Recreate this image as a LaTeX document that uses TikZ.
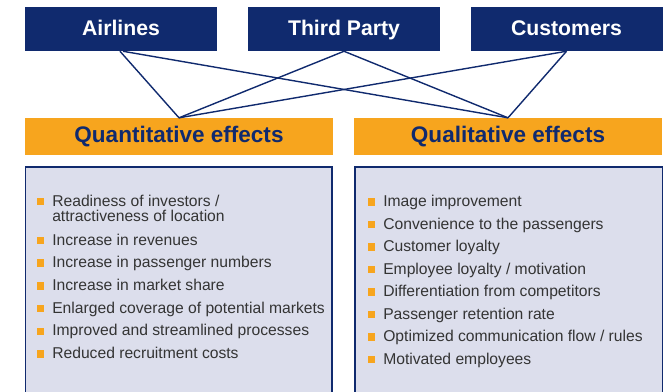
\documentclass[tikz,border=0pt]{standalone}
\usepackage{fontspec}
\setmainfont{Liberation Sans}

\definecolor{navy}{RGB}{16,42,110}
\definecolor{amber}{RGB}{247,165,30}
\definecolor{panel}{RGB}{220,222,236}
\definecolor{bodytext}{RGB}{52,52,52}

\tikzset{
  party/.style={fill=navy, text=white, inner sep=0pt,
    font=\fontsize{15.9}{18}\selectfont\bfseries,
    minimum width=144pt, minimum height=33pt, text height=11pt, text depth=1pt},
  effect/.style={fill=amber, text=navy, inner sep=0pt,
    font=\fontsize{16.9}{19}\selectfont\bfseries,
    minimum width=231pt, minimum height=28pt, text height=11pt, text depth=3pt},
  panelbox/.style={fill=panel, draw=navy, line width=0.8pt},
  link/.style={draw=navy, line width=1.05pt},
  marker/.style={fill=amber, minimum size=5.6pt, inner sep=0pt},
  itemtext/.style={text=bodytext, anchor=base west, inner sep=0pt,
    font=\fontsize{11.75}{13}\selectfont}
}

\begin{document}
\begin{tikzpicture}[x=0.75pt,y=-0.75pt]

    \useasboundingbox (0,0) rectangle (663,392);

    \node[party] (airlines) at (121,29) {Airlines};
    \node[party] (thirdparty) at (344,29) {Third Party};
    \node[party] (customers) at (566.5,29) {Customers};

    \node[effect] (quant) at (179,136.75) {Quantitative effects};
    \node[effect] (qual) at (508,136.75) {Qualitative effects};

    \draw[link] ([xshift=-0.75pt]airlines.south) -- (quant.north);
    \draw[link] ([xshift=1.5pt]airlines.south) -- (qual.north);
    \draw[link] (thirdparty.south) -- (quant.north);
    \draw[link] (thirdparty.south) -- (qual.north);
    \draw[link] (customers.south) -- (quant.north);
    \draw[link] (customers.south) -- (qual.north);

    \draw[panelbox] (25.5,167) rectangle (332,400);
    \draw[panelbox] (355,167) rectangle (662.5,400);

    % quantitative list
    \foreach \b/\txt [count=\n] in {206/{Readiness of investors /},
        245/{Increase in revenues}, 267.7/{Increase in passenger numbers},
        290.4/{Increase in market share}, 313/{Enlarged coverage of potential markets},
        335.8/{Improved and streamlined processes}, 358.5/{Reduced recruitment costs}}{
      \node[marker] (qn-mark-\n) at (40.5,\b-4.5) {};
      \node[itemtext] (qn-item-\n) at (52,\b) {\txt};
    }
    \node[itemtext] (qn-item-1b) at (52,221.5) {attractiveness of location};

    % qualitative list
    \foreach \b/\txt [count=\n] in {206.5/{Image improvement},
        229/{Convenience to the passengers}, 251.5/{Customer loyalty},
        274/{Employee loyalty / motivation}, 296.5/{Differentiation from competitors},
        319/{Passenger retention rate}, 341.5/{Optimized communication flow / rules},
        364/{Motivated employees}}{
      \node[marker] (ql-mark-\n) at (371.5,\b-4.5) {};
      \node[itemtext] (ql-item-\n) at (383,\b) {\txt};
    }

\end{tikzpicture}
\end{document}
